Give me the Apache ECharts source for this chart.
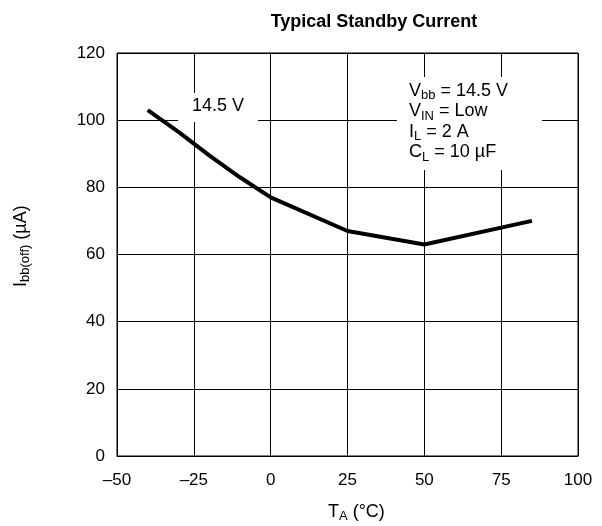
<!DOCTYPE html>
<html>
<head>
<meta charset="utf-8">
<script src="https://cdn.jsdelivr.net/npm/echarts@6/dist/echarts.min.js"></script>
<style>
  html, body { margin: 0; padding: 0; background: #fff; }
  #chart { width: 602px; height: 526px; }
</style>
</head>
<body>
<div id="chart"></div>
<script>
// temperature (°C) and standby current (µA)
const temps = [-40, -30, -20, -10, 0, 25, 50, 85]
const current = [103, 96.5, 89.5, 83, 77, 67, 63, 70]

const xTicks = [-50, -25, 0, 25, 50, 75, 100]
const yTicks = [0, 20, 40, 60, 80, 100, 120]

const FONT = 'Liberation Sans, Arial, sans-serif'
const dash = v => String(v).replace('-', '\u2013')

const chart = echarts.init(document.getElementById('chart'))

const norm = { fontSize: 18, fontFamily: FONT, color: '#000', lineHeight: 20, verticalAlign: 'top' }
const sub = { fontSize: 13, fontFamily: FONT, color: '#000', lineHeight: 13, verticalAlign: 'bottom' }

const option = {
  animation: false,
  title: {
    text: 'Typical Standby Current',
    left: 369,
    top: 8,
    textAlign: 'center',
    textStyle: { fontFamily: FONT, fontSize: 18, fontWeight: 'bold', color: '#000' }
  },
  grid: {
    left: 117, right: 24, top: 53, bottom: 70,
    show: true, borderColor: '#000', borderWidth: 1
  },
  xAxis: {
    type: 'value',
    min: xTicks[0], max: xTicks[xTicks.length - 1], interval: 25,
    axisLine: { lineStyle: { color: '#000', width: 1 } },
    axisTick: { show: false },
    axisLabel: { color: '#000', fontFamily: FONT, fontSize: 17, margin: 16, formatter: dash },
    splitLine: { lineStyle: { color: '#000', width: 1 } }
  },
  yAxis: {
    type: 'value',
    min: yTicks[0], max: yTicks[yTicks.length - 1], interval: 20,
    axisLine: { lineStyle: { color: '#000', width: 1 } },
    axisTick: { show: false },
    axisLabel: { color: '#000', fontFamily: FONT, fontSize: 17, margin: 12 },
    splitLine: { lineStyle: { color: '#000', width: 1 } }
  },
  series: [{
    type: 'line',
    data: temps.map((t, i) => [t, current[i]]),
    showSymbol: false,
    lineStyle: { color: '#000', width: 4 },
    z: 10
  }],
  graphic: [
    // white patches behind the labels hide the grid lines, as in the original
    { type: 'rect', z: 5, shape: { x: 178, y: 93, width: 80, height: 29 }, style: { fill: '#fff' } },
    { type: 'text', z: 6, x: 192, y: 97, style: { text: '14.5 V', font: '18px ' + FONT, fill: '#000' } },
    { type: 'rect', z: 5, shape: { x: 397, y: 77, width: 145, height: 93 }, style: { fill: '#fff' } },
    { type: 'text', z: 6, x: 409, y: 82, style: { text: '{n|V}{s|bb}{n| = 14.5 V}', rich: { n: norm, s: sub } } },
    { type: 'text', z: 6, x: 409, y: 102.5, style: { text: '{n|V}{s|IN}{n| = Low}', rich: { n: norm, s: sub } } },
    { type: 'text', z: 6, x: 409, y: 123, style: { text: '{n|I}{s|L}{n| = 2 A}', rich: { n: norm, s: sub } } },
    { type: 'text', z: 6, x: 409, y: 143.5, style: { text: '{n|C}{s|L}{n| = 10 \u00b5F}', rich: { n: norm, s: sub } } },
    {
      type: 'text', z: 6, x: 328, y: 503,
      style: { text: '{n|T}{s|A}{n| (\u00b0C)}', rich: { n: norm, s: sub } }
    },
    {
      type: 'text', z: 6, x: 12, y: 287, rotation: Math.PI / 2,
      style: { text: '{n|I}{s|bb(off)}{n| (\u00b5A)}', rich: { n: norm, s: sub } }
    }
  ]
}

chart.setOption(option)
</script>
</body>
</html>
